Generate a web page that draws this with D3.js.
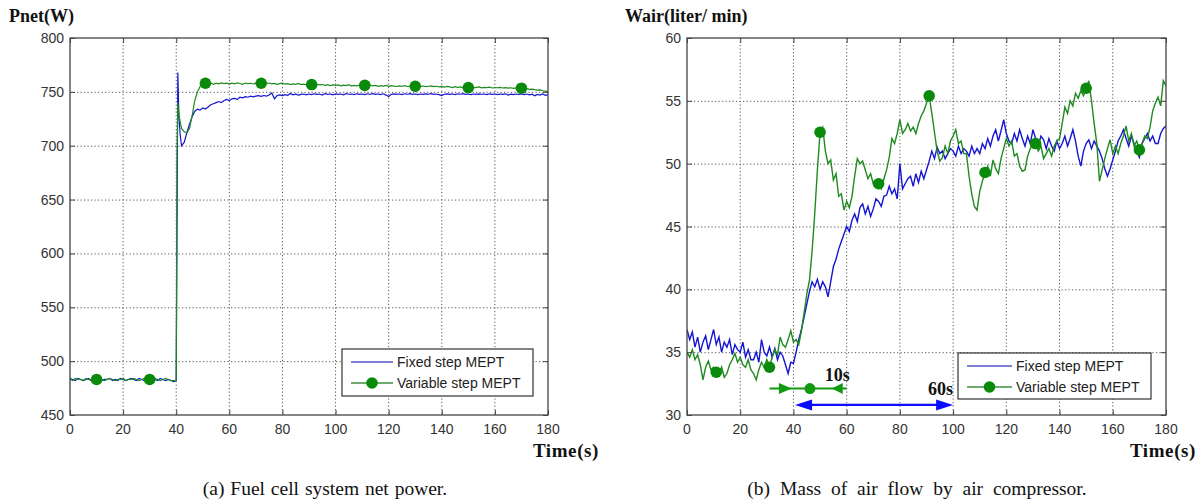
<!DOCTYPE html>
<html><head><meta charset="utf-8">
<script src="https://cdn.jsdelivr.net/npm/d3@7"></script>
<style>
html,body{margin:0;padding:0;background:#fff;}
svg{display:block;}
.tick-label{font-family:"Liberation Sans",Arial,sans-serif;font-size:14px;fill:#333;}
.serif-b{font-family:"Liberation Serif","Times New Roman",serif;font-weight:bold;fill:#111;}
.serif{font-family:"Liberation Serif","Times New Roman",serif;fill:#111;}
.leg{font-family:"Liberation Sans",Arial,sans-serif;font-size:14px;fill:#222;}
</style>
</head><body>
<svg id="c" width="1198" height="501"></svg>
<script>
// ---------------- DATA ----------------
const seriesNames = ["Fixed step MEPT", "Variable step MEPT"];

// (a) Net power, time axis (s)
const timeA = [...d3.range(0, 40), 40, 40.3, 40.6, 41, 41.5, ...d3.range(42, 181)];
const fixedA = [
 484,483,482,484,483,482,483,484,482,483,484,483,482,483,483,484,482,483,482,484,
 483,482,483,484,483,482,484,483,482,483,484,482,483,482,484,483,482,483,482,481,
 482,625,768,728,710,
 700,703,712,720,727,732,734,733,735,
 734,736,738,739,740,741,740,742,743,742,
 743.5,744,743,745,744.5,745.5,745,746,745.4,746,
 746.4,745.8,746.6,746,747,749,743.5,746.6,747.2,746.6,
 747.4,746.8,748.5,747.2,747.8,747,747.6,748,747.2,748,
 747.4,748.2,747.6,748,747,748.4,747.6,748,747.2,748.2,
 747.6,748,747.2,748.4,747.8,748,747.4,748.2,747.6,748,
 747.4,748.2,747.8,748.4,747.6,748,747.4,748.2,747,745.6,
 747.8,748.2,747.6,748,747.4,748.2,747.8,748.4,747.6,748,
 747.4,748,747.6,748.2,747.8,748.4,747.6,748,747.4,746.6,
 747.8,748.2,747.6,748,747.4,748.2,747.8,748.4,747.6,748,
 747.4,748,747.6,748.2,747.8,748,747.4,748.2,747.6,748,
 747.4,748,747.6,748.2,747,747.8,747.4,748,747.6,748,
 747.4,748,747.2,747.8,746.4,747.6,747,748,746.8,747.4
];
const variableA = [
 483,482,484,483,483,482,484,483,482,483,483,484,483,482,483,484,483,482,483,483,
 484,482,483,483,484,483,482,483,484,483,483,482,484,483,482,483,484,483,482,482,
 482,690,740,730,722,
 716,713,712,716,728,742,750,755,757,
 758,757.5,758.2,757,758,757.4,758.3,757.6,758,757.2,
 758,757.5,758.4,757.8,757,758.2,757.6,758,757.3,758.1,
 757.6,758,757.2,757.8,758.2,757.4,757.9,757,757.6,758,
 757.2,757.6,756.8,757.4,757,757.8,756.8,757.2,756.6,757,
 756.8,756.2,757,756.4,756.8,756,756.6,755.8,756.4,756,
 756.4,755.6,756.2,755.8,756.6,755.4,756,755.6,756.2,755.8,
 756,755.4,756.2,755.6,756,755.2,755.8,755.4,756,755.2,
 755.8,755.4,755,755.6,755.2,755.8,755,755.4,755.8,755.2,
 755.6,755,755.4,754.8,755.2,755.6,754.8,755.2,754.6,755,
 754.4,755,754.6,754,754.8,754.2,754.6,753.8,754.4,754,
 754.4,753.8,754.2,754.6,753.8,754.2,754,754.4,753.6,754,
 753.8,754.2,753.6,754,753.4,753.8,753.2,753.6,753,753.4,
 752.8,753,752.4,752.6,752,751.6,751.8,751,750.6,750
];
const markerTimesA = [10, 30, 51, 72, 91, 111, 130, 150, 170];
const xTicksA = [0,20,40,60,80,100,120,140,160,180];
const yTicksA = [450,500,550,600,650,700,750,800];

// (b) Air flow, time axis (s)
const timeB = d3.range(0, 181);
const fixedB = [
 36.8,36.0,36.6,35.4,36.2,35.0,35.8,36.3,35.2,36.0,
 36.8,35.6,36.2,35.0,35.8,35.4,36.0,34.8,35.6,35.2,
 35.0,35.8,34.6,35.2,34.4,34.4,35.0,34.2,36.0,35.0,
 34.7,35.4,34.6,35.3,34.4,35.0,34.7,34.0,33.3,34.2,
 34.1,35.0,36.0,36.8,37.8,38.8,39.8,40.6,40.2,40.8,
 40.0,40.6,40.2,39.4,40.6,41.8,42.4,43.2,43.8,44.4,
 45.0,44.6,45.5,46.0,45.4,46.5,46.8,46.0,46.6,45.8,
 46.4,47.2,47.0,46.6,47.4,47.5,48.2,47.6,48.0,47.2,
 50.0,48.0,48.4,48.8,49.0,48.2,49.2,48.5,49.4,48.8,
 49.5,50.2,51.0,50.4,51.3,50.8,51.0,50.4,50.8,51.2,
 51.0,50.6,51.4,50.8,51.2,51.0,50.6,51.4,50.8,51.2,
 50.8,51.6,51.2,52.0,51.4,52.2,52.7,51.8,52.6,53.5,
 52.4,51.8,51.6,52.4,51.8,52.7,52.0,51.4,52.2,51.6,
 52.7,52.0,51.4,52.2,51.9,51.2,52.0,51.4,51.0,51.8,
 51.2,51.6,52.2,51.4,52.0,52.7,51.8,50.6,49.8,51.0,
 51.6,51.9,51.2,51.8,51.4,51.0,50.4,49.6,49.0,49.6,
 50.3,51.0,51.8,52.2,52.7,52.0,51.4,52.2,51.6,51.0,
 50.5,51.6,52.0,52.4,51.8,52.2,51.6,51.6,52.4,52.8,
 53.0
];
const variableB = [
 35.0,34.6,35.2,34.4,34.8,34.0,32.8,33.8,34.3,33.6,
 33.8,33.4,33.2,33.8,33.0,33.3,34.0,34.4,34.9,34.2,
 34.6,34.0,33.8,34.4,33.6,33.3,32.8,33.6,34.2,33.8,
 34.4,33.8,34.6,35.2,34.8,36.2,35.6,35.4,36.0,36.7,
 35.8,36.0,35.6,36.7,38.1,39.6,40.7,43.0,46.0,49.5,
 52.5,52.9,51.0,50.0,50.3,48.7,49.2,47.4,47.6,46.3,
 47.0,46.5,47.4,49.0,50.4,50.0,50.2,49.5,48.8,49.2,
 48.4,48.6,48.4,48.0,48.8,49.5,50.5,52.0,51.6,52.4,
 53.5,52.4,52.7,53.2,52.6,52.9,52.4,53.2,53.8,54.2,
 54.8,55.4,54.0,52.5,51.0,50.2,50.5,51.4,50.8,51.8,
 52.2,52.7,51.6,51.8,50.8,50.8,49.0,47.6,46.6,46.3,
 47.8,48.6,49.3,49.8,49.0,50.3,49.6,49.2,50.4,51.2,
 52.0,51.4,51.8,50.6,50.8,49.8,49.4,49.5,50.6,51.2,
 51.6,51.6,51.0,51.4,50.4,50.8,51.2,50.6,51.4,51.8,
 52.0,53.2,54.5,54.0,55.0,54.6,55.6,55.2,55.8,55.4,
 56.0,56.6,55.0,53.2,51.6,48.6,49.5,50.4,51.2,51.9,
 50.8,51.4,50.8,51.6,52.2,53.0,51.8,52.4,51.4,51.8,
 51.1,51.6,52.2,52.0,52.9,54.2,54.8,55.3,54.6,56.6,
 56.2
];
const markerTimesB = [11, 31, 50, 72, 91, 112, 131, 150, 170];
const xTicksB = [0,20,40,60,80,100,120,140,160,180];
const yTicksB = [30,35,40,45,50,55,60];

// annotations in panel (b): [x-start, x-end, y] in data units
const annoGreenSpan = [31, 60, 32.1];
const annoGreenArrowTips = [39.4, 54.4];
const annoGreenDot = 46.2;
const annoBlueSpan = [40.6, 100, 30.8];
const annoLabels = ["10s", "60s"];

const titles = ["Pnet(W)", "Wair(liter/ min)"];
const xTitle = "Time(s)";
const captions = ["(a) Fuel cell system net power.", "(b) Mass of air flow by air compressor."];

// ---------------- DRAW ----------------
const svg = d3.select("#c");
const BLUE = "#1414d2", GREEN = "#1f8a1f", MK = "#0a8a0a";

function panel(cfg){
  const x = d3.scaleLinear().domain([0,180]).range([cfg.x0, cfg.x1]);
  const y = d3.scaleLinear().domain(cfg.yDom).range([415, 38]);
  const g = svg.append("g");
  // grid
  g.selectAll(".gx").data(cfg.xTicks.slice(1,-1)).join("line")
    .attr("x1", d=>x(d)).attr("x2", d=>x(d)).attr("y1", 38).attr("y2", 415)
    .attr("stroke", "#555").attr("stroke-width", 1).attr("stroke-dasharray", "1.2,2.3");
  g.selectAll(".gy").data(cfg.yTicks.slice(1,-1)).join("line")
    .attr("y1", d=>y(d)+0.5).attr("y2", d=>y(d)+0.5).attr("x1", cfg.x0).attr("x2", cfg.x1)
    .attr("stroke", "#555").attr("stroke-width", 1).attr("stroke-dasharray", "1.2,2.3");
  // lines
  const clip = "clip" + cfg.id;
  svg.append("clipPath").attr("id", clip).append("rect")
    .attr("x", cfg.x0).attr("y", 38).attr("width", cfg.x1-cfg.x0).attr("height", 377);
  const line = d3.line().x(d=>x(d[0])).y(d=>y(d[1]));
  const lg = g.append("g").attr("clip-path", `url(#${clip})`);
  lg.append("path").datum(cfg.t.map((t,i)=>[t, cfg.fixed[i]]))
    .attr("d", line).attr("fill","none").attr("stroke", BLUE).attr("stroke-width", cfg.lw);
  lg.append("path").datum(cfg.t.map((t,i)=>[t, cfg.variable[i]]))
    .attr("d", line).attr("fill","none").attr("stroke", GREEN).attr("stroke-width", cfg.lw);
  lg.selectAll(".mk").data(cfg.markers).join("circle")
    .attr("cx", d=>x(d)).attr("cy", d=>y(cfg.variable[cfg.t.indexOf(d)]))
    .attr("r", 5.8).attr("fill", MK);
  // frame
  g.append("rect").attr("x", cfg.x0).attr("y", 38).attr("width", cfg.x1-cfg.x0).attr("height", 377)
    .attr("fill","none").attr("stroke","#444").attr("stroke-width",1.3);
  // inward ticks
  const bx = d3.axisBottom(x).tickValues(cfg.xTicks).tickSize(-5).tickFormat("");
  g.append("g").attr("transform","translate(0,415)").call(bx).call(s=>s.select(".domain").remove())
    .selectAll("line").attr("stroke","#444");
  g.append("g").attr("transform","translate(0,38)").call(d3.axisTop(x).tickValues(cfg.xTicks).tickSize(-5).tickFormat(""))
    .call(s=>s.select(".domain").remove()).selectAll("line").attr("stroke","#444");
  g.append("g").attr("transform",`translate(${cfg.x0},0)`).call(d3.axisLeft(y).tickValues(cfg.yTicks).tickSize(-5).tickFormat(""))
    .call(s=>s.select(".domain").remove()).selectAll("line").attr("stroke","#444");
  g.append("g").attr("transform",`translate(${cfg.x1},0)`).call(d3.axisRight(y).tickValues(cfg.yTicks).tickSize(-5).tickFormat(""))
    .call(s=>s.select(".domain").remove()).selectAll("line").attr("stroke","#444");
  // tick labels
  g.selectAll(".xl").data(cfg.xTicks).join("text").attr("class","tick-label")
    .attr("x", d=>x(d)).attr("y", 434).attr("text-anchor","middle").text(d=>d);
  g.selectAll(".yl").data(cfg.yTicks).join("text").attr("class","tick-label")
    .attr("x", cfg.x0-6).attr("y", d=>y(d)+5).attr("text-anchor","end").text(d=>d);
  // titles
  g.append("text").attr("class","serif-b").attr("x", cfg.titleX).attr("y", 22)
    .attr("font-size", 18).text(cfg.title);
  g.append("text").attr("class","serif-b").attr("x", cfg.xTitleX).attr("y", 457)
    .attr("font-size", 19).attr("letter-spacing", 0.6).attr("text-anchor","end").text(xTitle);
  g.append("text").attr("class","serif").attr("x", cfg.capX).attr("y", 495)
    .attr("font-size", 19.5).attr("word-spacing", cfg.ws).attr("text-anchor","middle").text(cfg.caption);
  // legend
  const L = cfg.leg;
  g.append("rect").attr("x", L.x).attr("y", L.y).attr("width", L.w).attr("height", L.h)
    .attr("fill","#fff").attr("stroke","#333").attr("stroke-width",1.2);
  const rows = [L.y + 13, L.y + 34];
  seriesNames.forEach((nm, i) => {
    g.append("line").attr("x1", L.x+9).attr("x2", L.x+9+L.ll).attr("y1", rows[i]).attr("y2", rows[i])
      .attr("stroke", i===0 ? "#5555c8" : "#3f8f3f").attr("stroke-width", 1.4);
    if (i===1) g.append("circle").attr("cx", L.x+9+L.ll/2).attr("cy", rows[i]).attr("r", 5.8).attr("fill", MK);
    g.append("text").attr("class","leg").attr("x", L.x+13+L.ll).attr("y", rows[i]+5).text(nm);
  });
  return {x, y, g};
}

panel({id:"a", x0:70, x1:548, yDom:[450,800], t:timeA, fixed:fixedA, variable:variableA, lw:1.2,
  markers:markerTimesA, xTicks:xTicksA, yTicks:yTicksA, title:titles[0], titleX:9, xTitleX:599,
  capX:325, ws:1, caption:captions[0], leg:{x:342, y:349, w:191, h:47, ll:42}});

const pb = panel({id:"b", x0:687, x1:1166, yDom:[30,60], t:timeB, fixed:fixedB, variable:variableB, lw:1.4,
  markers:markerTimesB, xTicks:xTicksB, yTicks:yTicksB, title:titles[1], titleX:625, xTitleX:1196,
  capX:917, ws:5, caption:captions[1], leg:{x:958, y:353, w:193, h:46, ll:45}});

// annotations panel b
{
  const {x, y, g} = pb;
  const gy = y(annoGreenSpan[2]);
  g.append("line").attr("x1", x(annoGreenSpan[0])).attr("x2", x(annoGreenSpan[1]))
    .attr("y1", gy).attr("y2", gy).attr("stroke", "#119911").attr("stroke-width", 2);
  const tip1 = x(annoGreenArrowTips[0]), tip2 = x(annoGreenArrowTips[1]);
  g.append("path").attr("d", `M${tip1},${gy} L${tip1-13},${gy-5.5} L${tip1-13},${gy+5.5} Z`).attr("fill","#119911");
  g.append("path").attr("d", `M${tip2},${gy} L${tip2+11},${gy-5.5} L${tip2+11},${gy+5.5} Z`).attr("fill","#119911");
  g.append("circle").attr("cx", x(annoGreenDot)).attr("cy", gy).attr("r", 5.5).attr("fill","#119911");
  const by = y(annoBlueSpan[2]);
  const bx1 = x(annoBlueSpan[0]), bx2 = x(annoBlueSpan[1]);
  g.append("line").attr("x1", bx1+10).attr("x2", bx2-10).attr("y1", by).attr("y2", by)
    .attr("stroke", "#0b0bff").attr("stroke-width", 2.2);
  g.append("path").attr("d", `M${bx1},${by} L${bx1+17},${by-5.5} L${bx1+17},${by+5.5} Z`).attr("fill","#0b0bff");
  g.append("path").attr("d", `M${bx2},${by} L${bx2-17},${by-5.5} L${bx2-17},${by+5.5} Z`).attr("fill","#0b0bff");
  g.append("text").attr("class","serif-b").attr("font-size", 18).attr("x", x(56.5)).attr("y", 381)
    .attr("text-anchor","middle").text(annoLabels[0]);
  g.append("text").attr("class","serif-b").attr("font-size", 18).attr("x", x(100)).attr("y", 395)
    .attr("text-anchor","end").text(annoLabels[1]);
}
</script>
</body></html>
